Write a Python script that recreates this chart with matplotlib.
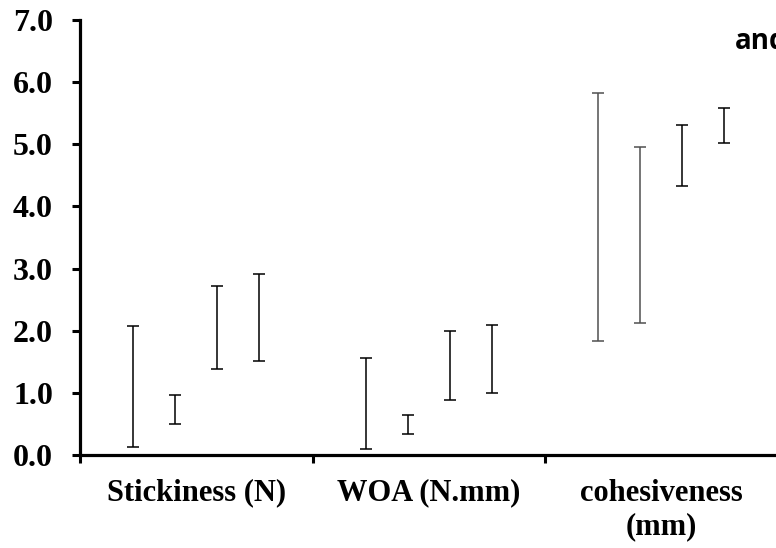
import matplotlib
matplotlib.use("Agg")
import matplotlib.pyplot as plt
import numpy as np

categories = ["Stickiness (N)", "WOA (N.mm)", "cohesiveness\n(mm)"]
# min / max of each of the four series in each category
low_s1 = [0.13, 0.10, 1.83]
high_s1 = [2.08, 1.56, 5.83]
low_s2 = [0.50, 0.34, 2.13]
high_s2 = [0.96, 0.64, 4.96]
low_s3 = [1.39, 0.88, 4.33]
high_s3 = [2.72, 2.00, 5.31]
low_s4 = [1.52, 1.00, 5.02]
high_s4 = [2.91, 2.09, 5.58]
y_ticks = [0, 1, 2, 3, 4, 5, 6, 7]
title_text = "and"

W, H = 776, 548
fig = plt.figure(figsize=(W / 100, H / 100), dpi=100)
left, right, top, bottom = 80, 777.5, 20, 455
ax = fig.add_axes([left / W, 1 - bottom / H, (right - left) / W, (bottom - top) / H])

serif = ["Liberation Serif", "DejaVu Serif"]
offsets = [-0.27, -0.09, 0.09, 0.27]
lows = [low_s1, low_s2, low_s3, low_s4]
highs = [high_s1, high_s2, high_s3, high_s4]
x = np.arange(len(categories)) + 0.5
for si, (lo, hi) in enumerate(zip(lows, highs)):
    lo = np.array(lo)
    hi = np.array(hi)
    mid = (lo + hi) / 2
    err = (hi - lo) / 2
    for ci in range(len(categories)):
        col = "#505050" if (ci == 2 and si < 2) else "black"
        ax.errorbar(x[ci] + offsets[si], mid[ci], yerr=err[ci], fmt="none",
                    ecolor=col, elinewidth=1.1, capsize=4.5, capthick=1.1)

ax.set_xlim(0, len(categories))
ax.set_ylim(0, 7)
ax.set_yticks(y_ticks)
ax.set_yticklabels([f"{v:.1f}" for v in y_ticks], fontfamily=serif,
                   fontweight="bold", fontsize=23)
ax.set_xticks(np.arange(len(categories) + 1))
ax.set_xticklabels([])
ax.set_xticks(x, minor=True)
ax.set_xticklabels(categories, minor=True, fontfamily=serif,
                   fontweight="bold", fontsize=22, linespacing=1.2)
ax.tick_params(axis="x", which="major", direction="out", length=5.5, width=2.2)
ax.tick_params(axis="x", which="minor", length=0, pad=17)
ax.tick_params(axis="y", direction="out", length=5.5, width=2.2, pad=14)
for s in ["top", "right"]:
    ax.spines[s].set_visible(False)
for s in ["left", "bottom"]:
    ax.spines[s].set_linewidth(2.3)
ax.spines["left"].set_zorder(5)

fig.text(735 / W, 1 - 49 / H, title_text, fontfamily=["Open Sans", "DejaVu Sans"],
         fontweight="bold", fontsize=20, ha="left", va="baseline")

fig.savefig("out.png", dpi=100)
